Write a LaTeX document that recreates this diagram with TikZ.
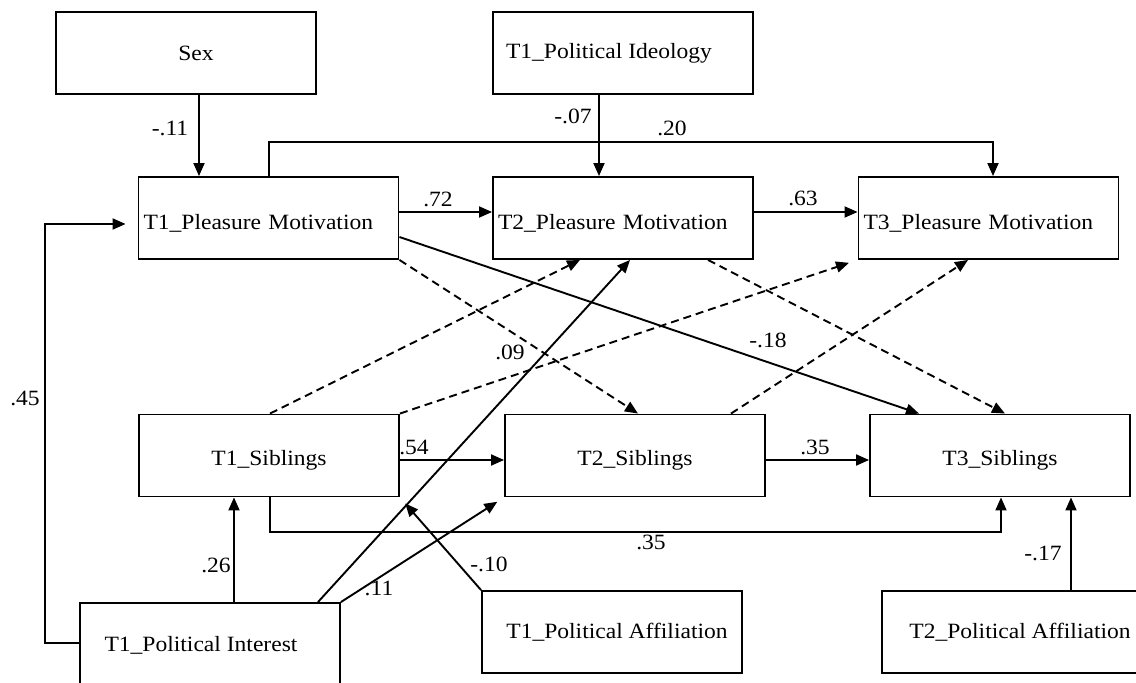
\documentclass[tikz,border=0pt]{standalone}
\usepackage{fontspec}
\setmainfont{Liberation Serif}[FakeStretch=1.08]
\usetikzlibrary{arrows.meta}

\newcommand{\lowtext}[1]{\raisebox{-2.5pt}[\height][\depth]{#1}}

\tikzset{
  box/.style={draw,minimum width=130pt,minimum height=41pt,inner sep=2pt,font=\fontsize{10.9}{12}\selectfont},
  lbox/.style={box,text width=125pt,align=left,inner xsep=2.5pt},
  lbl/.style={inner sep=0pt,font=\fontsize{10.9}{12}\selectfont},
  dsh/.style={dash pattern=on 4pt off 2.5pt},
}

\begin{document}
\begin{tikzpicture}[>={Triangle[length=6.5pt,width=5.5pt]},line width=0.95pt,x=0.5pt,y=-0.5pt]
\useasboundingbox (0,0) rectangle (1136,683);
% boxes
\node[box] (sex) at (186,53) {\hspace*{10pt}Sex};
\node[box] (ideo) at (623,53) {T1\_Political Ideology\hspace*{14pt}};
\node[lbox] (pm1) at (268.5,218) {\lowtext{T1\_Pleasure Motivation}};
\node[lbox] (pm2) at (623,218) {\lowtext{T2\_Pleasure Motivation}};
\node[lbox] (pm3) at (988.5,218) {\lowtext{T3\_Pleasure Motivation}};
\node[box] (sib1) at (269,455.5) {\lowtext{T1\_Siblings}};
\node[box] (sib2) at (635,455.5) {\lowtext{T2\_Siblings}};
\node[box] (sib3) at (1000,455.5) {\lowtext{T3\_Siblings}};
\node[box,minimum height=42pt] (inter) at (210,645) {T1\_Political Interest\hspace*{9pt}};
\node[box] (aff1) at (612,632) {\hspace*{5pt}T1\_Political Affiliation};
\node[box] (aff2) at (1012,632) {\hspace*{8pt}T2\_Political Affiliation};
% ports
\coordinate (c1) at (199,0);
\coordinate (c2) at (599,0);
\coordinate (c3) at (269,142);
\coordinate (c4) at (993,142);
\coordinate (r1) at (0,212);
\coordinate (c5) at (45,643);
\coordinate (c6) at (45,224);
\coordinate (r2) at (0,460);
\coordinate (c7) at (270,532);
\coordinate (c8) at (1001,532);
\coordinate (c9) at (234,0);
\coordinate (c10) at (318,0);
\coordinate (c11) at (630,0);
\coordinate (c12) at (1071,0);
\coordinate (r3) at (0,237);
\coordinate (c13) at (919,0);
\coordinate (c14) at (638,0);
\coordinate (c15) at (580,0);
\coordinate (c16) at (708,0);
\coordinate (c17) at (1005,0);
\coordinate (c18) at (731,0);
\coordinate (c19) at (968,0);
% paths
\draw[->] (sex.south -| c1) -- (pm1.north -| c1);
\draw[->] (ideo.south -| c2) -- (pm2.north -| c2);
\draw[->] (pm1.north -| c3) -- (c3) -- (c4) -- (pm3.north -| c4);
\draw[->] (pm1.east |- r1) -- (pm2.west |- r1);
\draw[->] (pm2.east |- r1) -- (pm3.west |- r1);
\draw[->,shorten >=6pt] (inter.west |- c5) -- (c5) -- (c6) -- (pm1.west |- c6);
\draw[->] (sib1.east |- r2) -- (sib2.west |- r2);
\draw[->] (sib2.east |- r2) -- (sib3.west |- r2);
\draw[->] (sib1.south -| c7) -- (c7) -- (c8) -- (sib3.south -| c8);
\draw[->] (inter.north -| c9) -- (sib1.south -| c9);
\draw[->] (inter.north -| c10) -- (pm2.south -| c11);
\draw[->,shorten >=4pt] (inter.north east) -- (sib2.south west);
\draw[->,shorten >=4pt] (aff1.north west) -- (sib1.south east);
\draw[->] (aff2.north -| c12) -- (sib3.south -| c12);
\draw[->] (pm1.east |- r3) -- (sib3.north -| c13);
\draw[->,dsh] (pm1.south east) -- (sib2.north -| c14);
\draw[->,dsh] (sib1.north -| c7) -- (pm2.south -| c15);
\draw[->,dsh,shorten >=4.5pt] (sib1.north east) -- (pm3.south west);
\draw[->,dsh] (pm2.south -| c16) -- (sib3.north -| c17);
\draw[->,dsh] (sib2.north -| c18) -- (pm3.south -| c19);
% weights
\node[lbl] (w1) at (170,128) {-.11};
\node[lbl] (w2) at (573,116) {-.07};
\node[lbl] (w3) at (672,128) {.20};
\node[lbl] (w4) at (438,199) {.72};
\node[lbl] (w5) at (803,198) {.63};
\node[lbl] (w6) at (25,398) {.45};
\node[lbl] (w7) at (768,340) {-.18};
\node[lbl] (w8) at (510,352) {.09};
\node[lbl] (w9) at (414,447) {.54};
\node[lbl] (w10) at (815,447) {.35};
\node[lbl] (w11) at (651,542) {.35};
\node[lbl] (w12) at (216,565) {.26};
\node[lbl] (w13) at (379,588) {.11};
\node[lbl] (w14) at (489,564) {-.10};
\node[lbl] (w15) at (1043,553) {-.17};
\end{tikzpicture}
\end{document}
